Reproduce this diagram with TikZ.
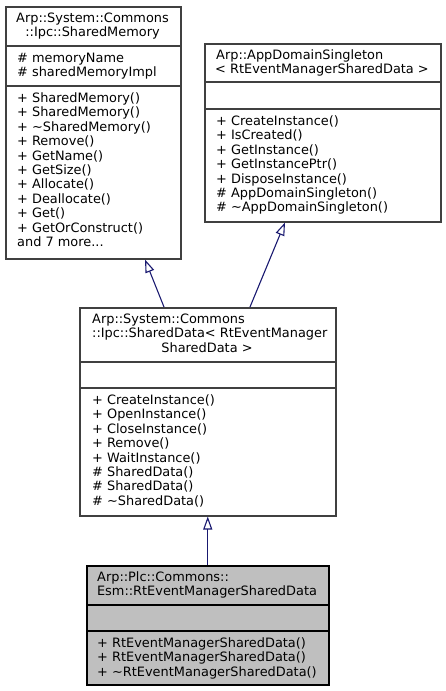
\documentclass[tikz,border=0pt]{standalone}
\usepackage{fontspec}
\setmainfont{DejaVu Sans}
\usetikzlibrary{arrows.meta}
\definecolor{edgeblue}{HTML}{191970}
\definecolor{boxgray}{HTML}{404040}
\definecolor{curgray}{HTML}{BFBFBF}
\tikzset{
  cls/.style={draw=boxgray, fill=white, line width=1.5pt, inner sep=0pt, anchor=north west},
  cur/.style={cls, draw=black, fill=curgray},
  sep/.style={boxgray, line width=1.5pt},
  txt/.style={anchor=base west, inner sep=0pt, font=\fontsize{12.9}{14.4}\selectfont},
  ctxt/.style={txt, anchor=base},
  inh/.style={draw=edgeblue, line width=1.1pt, -{Triangle[open,length=13pt,width=9pt]}},
}
\begin{document}
\begin{tikzpicture}[x=1pt,y=-1pt]
\useasboundingbox (0,0) rectangle (445,691);
% SharedMemory
\node[cls, minimum width=175pt, minimum height=252pt] (sm) at (5,6) {};
\draw[sep] (5,46) -- (180,46);
\draw[sep] (5,86) -- (180,86);
\node[ctxt] (sm-t1) at (92.5,22.5) {Arp::System::Commons};
\node[ctxt] (sm-t2) at (92.5,36.9) {::Ipc::SharedMemory};
\node[txt] (sm-a1) at (17,62.5) {\# memoryName};
\node[txt] (sm-a2) at (17,76.9) {\# sharedMemoryImpl};
\foreach \m [count=\i from 0] in {+ SharedMemory(), + SharedMemory(), + \textasciitilde SharedMemory(),
  + Remove(), + GetName(), + GetSize(), + Allocate(), + Deallocate(), + Get(), + GetOrConstruct()}
  \node[txt] (sm-m\i) at (17,102.5+14.4*\i) {\m};
\node[txt] (sm-more) at (17,246.5) {and 7 more...};
% AppDomainSingleton
\node[cls, minimum width=236pt, minimum height=178pt] (ads) at (204,43) {};
\draw[sep] (204,82) -- (440,82);
\draw[sep] (204,109) -- (440,109);
\node[txt] (ads-t1) at (216,59.5) {Arp::AppDomainSingleton};
\node[ctxt] (ads-t2) at (322,73.9) {< RtEventManagerSharedData >};
\foreach \m [count=\i from 0] in {+ CreateInstance(), + IsCreated(), + GetInstance(), + GetInstancePtr(),
  + DisposeInstance(), \# AppDomainSingleton(), \# \textasciitilde AppDomainSingleton()}
  \node[txt] (ads-m\i) at (216,125.5+14.4*\i) {\m};
% SharedData
\node[cls, minimum width=256pt, minimum height=208pt] (sd) at (79,307) {};
\draw[sep] (79,362) -- (335,362);
\draw[sep] (79,388) -- (335,388);
\node[txt] (sd-t1) at (92,323.5) {Arp::System::Commons};
\node[txt] (sd-t2) at (92,337.9) {::Ipc::SharedData< RtEventManager};
\node[ctxt] (sd-t3) at (207,352.3) {SharedData >};
\foreach \m [count=\i from 0] in {+ CreateInstance(), + OpenInstance(), + CloseInstance(), + Remove(),
  + WaitInstance(), \# SharedData(), \# SharedData(), \# \textasciitilde SharedData()}
  \node[txt] (sd-m\i) at (92,404.5+14.4*\i) {\m};
% RtEventManagerSharedData
\node[cur, minimum width=242pt, minimum height=119pt] (rt) at (86,565) {};
\draw[line width=1.5pt] (86,605) -- (328,605);
\draw[line width=1.5pt] (86,631) -- (328,631);
\node[txt] (rt-t1) at (97,581.5) {Arp::Plc::Commons::};
\node[ctxt] (rt-t2) at (207,595.9) {Esm::RtEventManagerSharedData};
\foreach \m [count=\i from 0] in {+ RtEventManagerSharedData(), + RtEventManagerSharedData(),
  + \textasciitilde RtEventManagerSharedData()}
  \node[txt] (rt-m\i) at (97,647.5+14.4*\i) {\m};
% inheritance
\draw[inh] ([xshift=85pt]sd.north west) -- ([xshift=140pt]sm.south west);
\draw[inh] ([xshift=171pt]sd.north west) -- ([xshift=81pt]ads.south west);
\draw[inh] (rt.north) -- (sd.south);
\end{tikzpicture}
\end{document}
